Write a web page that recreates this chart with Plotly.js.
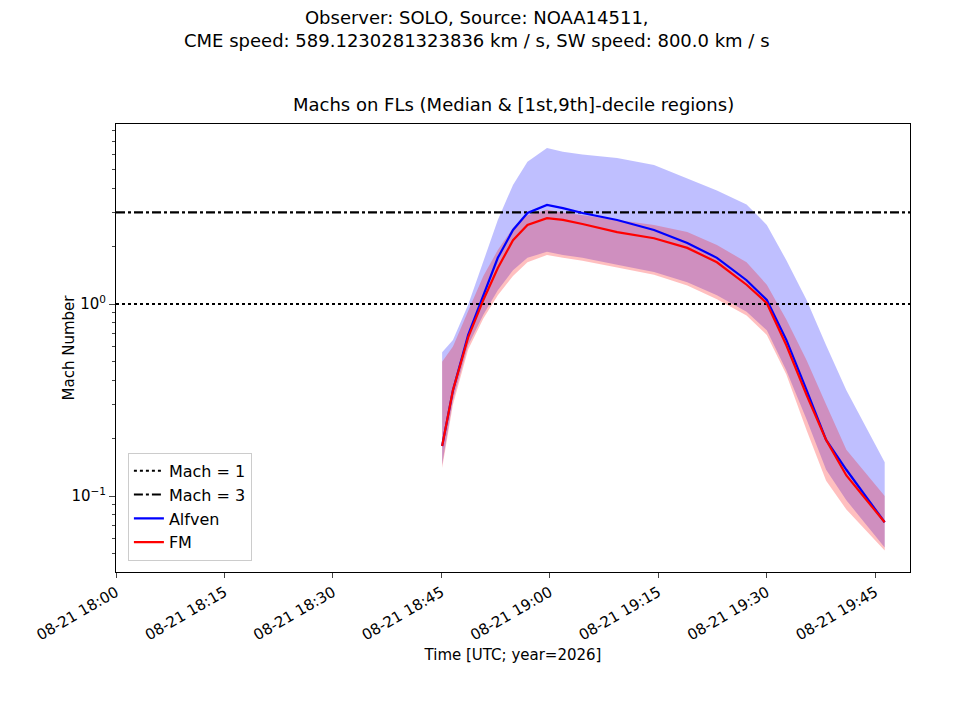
<!DOCTYPE html>
<html><head><meta charset="utf-8">
<script src="https://cdn.plot.ly/plotly-3.0.1.min.js"></script>
<style>body{margin:0;background:#fff}#chart{width:960px;height:720px}</style>
</head><body><div id="chart"></div>
<script>
// Shared time grid for all series (UTC, 2026-08-21)
const TIMES = ["2026-08-21 18:45:06","2026-08-21 18:46:36","2026-08-21 18:48:42","2026-08-21 18:50:48",
  "2026-08-21 18:52:48","2026-08-21 18:54:54","2026-08-21 18:56:54","2026-08-21 18:59:36",
  "2026-08-21 19:01:48","2026-08-21 19:04:30","2026-08-21 19:09:18","2026-08-21 19:14:24",
  "2026-08-21 19:19:00","2026-08-21 19:23:06","2026-08-21 19:27:12","2026-08-21 19:30:00",
  "2026-08-21 19:32:42","2026-08-21 19:35:30","2026-08-21 19:38:12","2026-08-21 19:41:00",
  "2026-08-21 19:46:18"];
const ALF_MED = [0.182,0.356,0.69,1.11,1.74,2.43,2.98,3.28,3.16,2.98,2.74,2.43,2.08,1.74,1.33,1.05,0.65,0.356,0.196,0.137,0.073];
const ALF_HI  = [0.56,0.65,0.99,1.65,2.74,4.17,5.5,6.5,6.2,6.0,5.76,5.3,4.5,3.9,3.3,2.58,1.69,1.05,0.61,0.356,0.15];
const ALF_LO  = [0.145,0.316,0.61,0.88,1.18,1.5,1.74,1.87,1.8,1.74,1.6,1.47,1.3,1.11,0.91,0.73,0.45,0.25,0.137,0.095,0.054];
const FM_MED  = [0.182,0.356,0.67,1.05,1.54,2.15,2.58,2.8,2.74,2.61,2.37,2.2,1.96,1.65,1.26,1.01,0.61,0.336,0.196,0.128,0.073];
const FM_HI   = [0.5,0.6,0.92,1.4,1.91,2.49,2.9,3.1,3.0,2.9,2.74,2.58,2.37,2.03,1.65,1.26,0.83,0.51,0.30,0.174,0.1];
const FM_LO   = [0.14,0.3,0.58,0.84,1.11,1.4,1.65,1.8,1.74,1.68,1.55,1.42,1.25,1.06,0.87,0.69,0.43,0.22,0.12,0.085,0.052];
const X_RANGE = ["2026-08-21 18:00:00","2026-08-21 19:49:48"];
const MINOR = [0.05,0.06,0.07,0.08,0.09,0.2,0.3,0.4,0.5,0.6,0.7,0.8,0.9,2,3,4,5,6,7,8];

const band = (lo, hi, col) => [
  {x: TIMES, y: lo, mode: "lines", line: {width: 0}, showlegend: false, hoverinfo: "skip"},
  {x: TIMES, y: hi, mode: "lines", line: {width: 0}, fill: "tonexty", fillcolor: col, showlegend: false, hoverinfo: "skip"},
];
const traces = [
  ...band(ALF_LO, ALF_HI, "rgba(0,0,255,0.25)"),
  ...band(FM_LO, FM_HI, "rgba(255,0,0,0.25)"),
  {x: X_RANGE, y: [1, 1], mode: "lines", name: "Mach = 1", line: {color: "black", width: 2, dash: "dot"}},
  {x: X_RANGE, y: [3, 3], mode: "lines", name: "Mach = 3", line: {color: "black", width: 2.2, dash: "dashdot"}},
  {x: TIMES, y: ALF_MED, mode: "lines", name: "Alfven", line: {color: "blue", width: 2.2}},
  {x: TIMES, y: FM_MED, mode: "lines", name: "FM", line: {color: "red", width: 2.2}},
];
const FONT = "DejaVu Sans, sans-serif";
const layout = {
  width: 960, height: 720,
  paper_bgcolor: "#fff", plot_bgcolor: "#fff",
  font: {family: FONT, size: 15, color: "#000"},
  margin: {l: 116, r: 50, t: 124, b: 148},
  annotations: [
    {text: "Observer: SOLO, Source: NOAA14511,<br>CME speed: 589.1230281323836 km / s, SW speed: 800.0 km / s",
      xref: "paper", yref: "paper", x: 0.455, y: 1.265, yanchor: "top", showarrow: false, font: {size: 18}},
    {text: "Machs on FLs (Median & [1st,9th]-decile regions)", xref: "paper", yref: "paper",
      x: 0.5, y: 1.015, yanchor: "bottom", showarrow: false, font: {size: 18}}],
  xaxis: {type: "date", range: X_RANGE, dtick: 900000, tick0: "2026-08-21 18:00:00",
    tickformat: "%m-%d %H:%M", tickangle: -30, ticks: "outside", ticklen: 5,
    showgrid: false, zeroline: false, showline: true, mirror: true, linecolor: "#000",
    title: {text: "Time [UTC; year=2026]", font: {size: 15}}},
  yaxis: {type: "log", range: [Math.log10(0.0402), Math.log10(8.66)],
    tickvals: [0.1, 1], ticktext: ["10<sup>−1</sup>", "10<sup>0</sup>"], ticks: "outside", ticklen: 6,
    minor: {tickmode: "array", tickvals: MINOR, ticks: "outside", ticklen: 3, showgrid: false},
    showgrid: false, zeroline: false, showline: true, mirror: true, linecolor: "#000",
    title: {text: "Mach Number", font: {size: 15}}},
  showlegend: true,
  legend: {x: 0.015, y: 0.025, xanchor: "left", yanchor: "bottom", traceorder: "normal",
    bgcolor: "rgba(255,255,255,0.8)", bordercolor: "#ccc", borderwidth: 1, font: {size: 16}},
};
Plotly.newPlot("chart", traces, layout, {displayModeBar: false, staticPlot: true});
</script></body></html>
